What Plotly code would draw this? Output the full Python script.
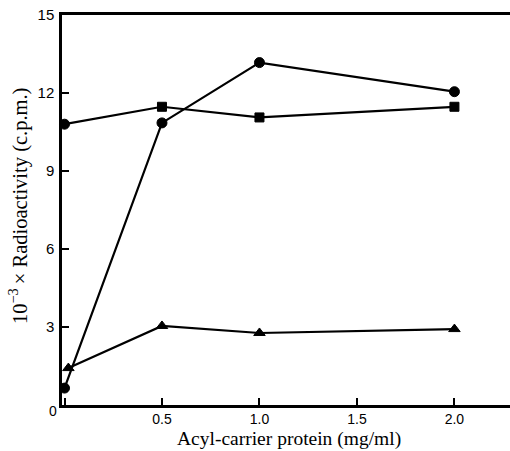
import plotly.graph_objects as go

x_circle = [0.0, 0.5, 1.0, 2.0]
y_circle = [0.65, 10.85, 13.17, 12.05]

x_square = [0.0, 0.5, 1.0, 2.0]
y_square = [10.8, 11.47, 11.06, 11.47]

x_triangle = [0.02, 0.5, 1.0, 2.0]
y_triangle = [1.42, 3.04, 2.77, 2.92]

x_ticks = [0, 0.5, 1.0, 1.5, 2.0]
x_ticklabels = ["", "0.5", "1.0", "1.5", "2.0"]
y_ticks = [3, 6, 9, 12, 15]

fig = go.Figure()
line = dict(color="black", width=2.2)
mline = dict(color="black", width=1)
fig.add_trace(go.Scatter(x=x_circle, y=y_circle, mode="lines+markers", line=line,
                         marker=dict(symbol="circle", size=10, color="black", line=mline, opacity=1),
                         cliponaxis=False))
fig.add_trace(go.Scatter(x=x_square, y=y_square, mode="lines+markers", line=line,
                         marker=dict(symbol=["circle", "square", "square", "square"], size=[10, 9, 9, 9],
                                     color="black", line=mline, opacity=1), cliponaxis=False))
fig.add_trace(go.Scatter(x=x_triangle, y=y_triangle, mode="lines+markers", line=line,
                         marker=dict(symbol="triangle-up", size=10, color="black", line=mline, opacity=1),
                         cliponaxis=False))

ML, MR, MT, MB = 62, 0, 15, 46
pw, ph = 510 - ML - MR, 451 - MT - MB

fig.update_layout(
    width=510, height=451,
    margin=dict(l=ML, r=MR, t=MT, b=MB, autoexpand=False),
    paper_bgcolor="white", plot_bgcolor="white",
    showlegend=False,
    font=dict(family="Liberation Sans", size=15, color="black"),
    xaxis=dict(range=[-0.0128, 2.285], tickvals=x_ticks, ticktext=x_ticklabels,
               ticks="inside", ticklen=7, tickwidth=2, tickcolor="black",
               tickfont=dict(size=14), ticklabelstandoff=-1,
               showline=True, linewidth=2.5, linecolor="black", mirror=True,
               showgrid=False, zeroline=False, automargin=False),
    yaxis=dict(range=[0, 15], tickvals=y_ticks,
               ticks="inside", ticklen=7, tickwidth=2, tickcolor="black",
               showline=True, linewidth=2.5, linecolor="black", mirror=False,
               showgrid=False, zeroline=False, automargin=False, ticklabelstandoff=2),
    annotations=[
        dict(text="0", x=0, y=0, xref="x", yref="paper", xshift=-12, yshift=-16,
             showarrow=False, font=dict(family="Liberation Sans", size=14)),
        dict(text="Acyl-carrier protein (mg/ml)", x=(289 - ML) / pw, y=(451 - MB - 439.5) / ph,
             xref="paper", yref="paper", xanchor="center", yanchor="middle",
             showarrow=False, font=dict(family="Liberation Serif", size=19.5)),
        dict(text="10<sup>\u22123</sup>\u2009\u00d7 Radioactivity (c.p.m.)",
             x=(18 - ML) / pw, y=(405 - 206) / ph, xanchor="center", yanchor="middle",
             xref="paper", yref="paper", showarrow=False, textangle=-90,
             font=dict(family="Liberation Serif", size=20.5)),
    ],
)

fig.write_html("out.html", config={"displayModeBar": False},
               post_script="document.body.style.margin='0';document.body.style.overflow='hidden';")
